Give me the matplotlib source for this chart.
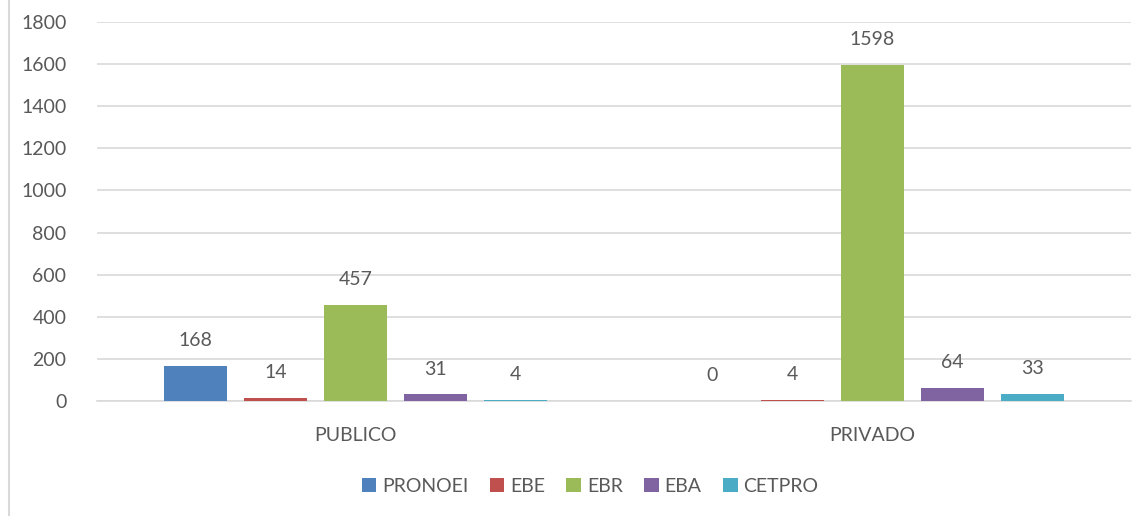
import matplotlib
matplotlib.use("Agg")
import matplotlib.pyplot as plt
from matplotlib.lines import Line2D
import numpy as np

categories = ["PUBLICO", "PRIVADO"]
series_names = ["PRONOEI", "EBE", "EBR", "EBA", "CETPRO"]
values = {
    "PRONOEI": [168, 0],
    "EBE": [14, 4],
    "EBR": [457, 1598],
    "EBA": [31, 64],
    "CETPRO": [4, 33],
}
colors = ["#4F81BD", "#C0504D", "#9BBB59", "#8064A2", "#4BACC6"]
yticks = [0, 200, 400, 600, 800, 1000, 1200, 1400, 1600, 1800]

plt.rcParams['font.family'] = ['Lato', 'DejaVu Sans']
txt = "#595959"
fs = 14

fig = plt.figure(figsize=(11.43, 5.16), dpi=100)
ax = fig.add_axes([97/1143, 1-401/516, (1131-97)/1143, (401-22)/516])

x = np.arange(len(categories))
step = 80/517
width = 63/517
for i, name in enumerate(series_names):
    off = (i - 2) * step
    ax.bar(x + off, values[name], width, color=colors[i], label=name, zorder=3)
    for xi, v in zip(x + off, values[name]):
        ax.annotate(str(v), (xi, v), xytext=(0, 12), textcoords="offset points",
                    ha="center", va="bottom", fontsize=fs, color=txt)

ax.set_xlim(-0.5, 1.5)
ax.set_ylim(0, 1800)
ax.set_yticks(yticks)
ax.set_xticks(x)
ax.set_xticklabels(categories)
ax.yaxis.grid(True, color="#d9d9d9", linewidth=1.2, zorder=0)
ax.set_axisbelow(True)
for s in ["top", "right", "left"]:
    ax.spines[s].set_visible(False)
ax.spines["bottom"].set_color("#d9d9d9")
ax.spines["bottom"].set_linewidth(1.2)
ax.tick_params(axis="both", length=0, labelsize=fs, labelcolor=txt)
ax.tick_params(axis="y", pad=22)
ax.tick_params(axis="x", pad=19)

ax.legend(loc="center", bbox_to_anchor=(590/1143, 1-486/516), bbox_transform=fig.transFigure,
          ncol=5, frameon=False, fontsize=fs, labelcolor=txt, handlelength=0.75, handleheight=0.75,
          handletextpad=0.3, columnspacing=1.1)

fig.add_artist(Line2D([8.5/1143, 8.5/1143], [0, 1], transform=fig.transFigure, color="#d9d9d9", linewidth=1.5))

fig.savefig("out.png", dpi=100)
